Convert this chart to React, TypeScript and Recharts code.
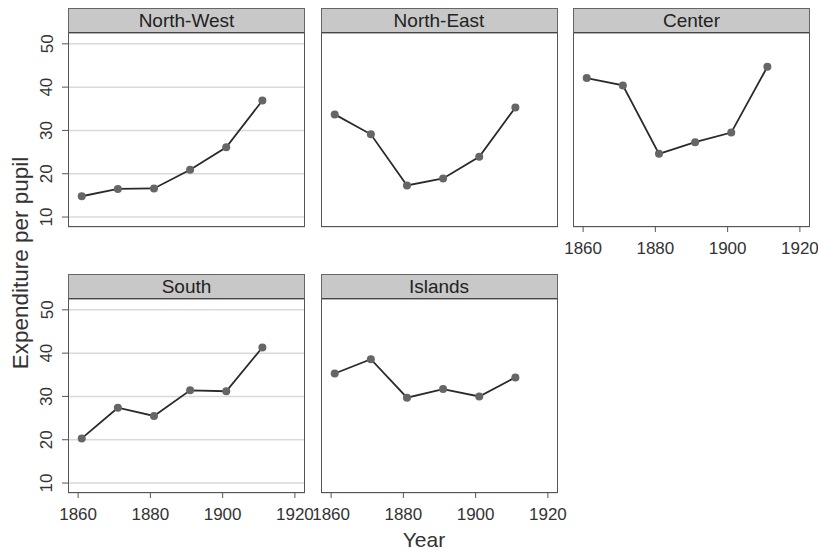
import React from "react";
import { LineChart, Line, XAxis, YAxis, CartesianGrid } from "recharts";

const years = [1861, 1871, 1881, 1891, 1901, 1911];
const northWest = [14.8, 16.5, 16.6, 20.9, 26.1, 36.9];
const northEast = [33.7, 29.1, 17.3, 18.9, 23.9, 35.3];
const center = [42.1, 40.4, 24.6, 27.3, 29.5, 44.7];
const south = [20.3, 27.4, 25.5, 31.4, 31.2, 41.3];
const islands = [35.3, 38.6, 29.7, 31.7, 30.0, 34.4];
const yTicks = [10, 20, 30, 40, 50];
const xTicks = [1860, 1880, 1900, 1920];

const FONT = '"Liberation Sans", Arial, Helvetica, sans-serif';
const PLOT_W = 237;
const PLOT_H = 194;
const AX_W = 40;
const AX_H = 40;
const RIGHT_PAD = 24;
const STRIP_H = 25;

const YTick = (props: any) => {
  const { x, y, payload } = props;
  return (
    <text
      x={x}
      y={y}
      transform={`rotate(-90 ${x} ${y})`}
      textAnchor="middle"
      fontSize={17}
      fontFamily={FONT}
      fill="#333"
    >
      {payload.value}
    </text>
  );
};

type PanelProps = {
  title: string;
  values: number[];
  left: number;
  top: number;
  showY: boolean;
  showX: boolean;
};

const Panel = ({ title, values, left, top, showY, showX }: PanelProps) => {
  const data = years.map((yr, i) => ({ year: yr, value: values[i] }));
  return (
    <>
      <div
        style={{
          position: "absolute",
          left: left,
          top: top - STRIP_H,
          width: PLOT_W,
          height: STRIP_H + 1,
          boxSizing: "border-box",
          background: "#c8c8c8",
          border: "1px solid #666",
          borderBottom: "2px solid #444",
          fontFamily: FONT,
          fontSize: 19,
          color: "#222",
          textAlign: "center",
          lineHeight: `${STRIP_H - 2}px`,
        }}
      >
        {title}
      </div>
      <div style={{ position: "absolute", left: left - AX_W, top: top }}>
        <LineChart
          width={AX_W + PLOT_W + RIGHT_PAD}
          height={PLOT_H + AX_H}
          data={data}
          margin={{ top: 0, right: RIGHT_PAD, bottom: 0, left: 0 }}
        >
          <CartesianGrid
            vertical={false}
            stroke="#d9d9d9"
            strokeWidth={1.5}
          />
          <XAxis
            type="number"
            dataKey="year"
            domain={[1857.2, 1922.8]}
            ticks={xTicks}
            allowDataOverflow
            height={AX_H}
            axisLine={false}
            tickLine={showX ? { stroke: "#555" } : false}
            tickSize={5}
            tickMargin={10}
            tick={showX ? { fontSize: 17, fill: "#333", fontFamily: FONT } : false}
            interval={0}
          />
          <YAxis
            type="number"
            domain={[7.7, 52.5]}
            ticks={yTicks}
            allowDataOverflow
            width={AX_W}
            axisLine={false}
            tickLine={showY ? { stroke: "#555" } : false}
            tickSize={6}
            tickMargin={9.5}
            tick={showY ? <YTick /> : false}
            interval={0}
          />
          <Line
            type="linear"
            dataKey="value"
            stroke="#2a2a2a"
            strokeWidth={1.8}
            dot={{ r: 4, fill: "#666", stroke: "#666", strokeWidth: 0 }}
            isAnimationActive={false}
          />
        </LineChart>
      </div>
      <div
        style={{
          position: "absolute",
          left: left,
          top: top,
          width: PLOT_W,
          height: PLOT_H,
          boxSizing: "border-box",
          border: "1px solid #555",
          borderTop: "none",
          pointerEvents: "none",
        }}
      />
    </>
  );
};

export default function App() {
  const col = [68, 320.5, 573];
  const row = [33, 299];
  return (
    <div
      style={{
        position: "absolute",
        left: 0,
        top: 0,
        width: 818,
        height: 553,
        background: "#fff",
        overflow: "hidden",
      }}
    >
      <Panel title="North-West" values={northWest} left={col[0]} top={row[0]} showY showX={false} />
      <Panel title="North-East" values={northEast} left={col[1]} top={row[0]} showY={false} showX={false} />
      <Panel title="Center" values={center} left={col[2]} top={row[0]} showY={false} showX />
      <Panel title="South" values={south} left={col[0]} top={row[1]} showY showX />
      <Panel title="Islands" values={islands} left={col[1]} top={row[1]} showY={false} showX />
      <svg
        width={818}
        height={553}
        style={{ position: "absolute", left: 0, top: 0, pointerEvents: "none" }}
      >
        <text
          x={28}
          y={263}
          transform="rotate(-90 28 263)"
          textAnchor="middle"
          fontSize={22.5}
          fontFamily={FONT}
          fill="#333"
        >
          Expenditure per pupil
        </text>
        <text
          x={424}
          y={547}
          textAnchor="middle"
          fontSize={21}
          fontFamily={FONT}
          fill="#333"
        >
          Year
        </text>
      </svg>
    </div>
  );
}
